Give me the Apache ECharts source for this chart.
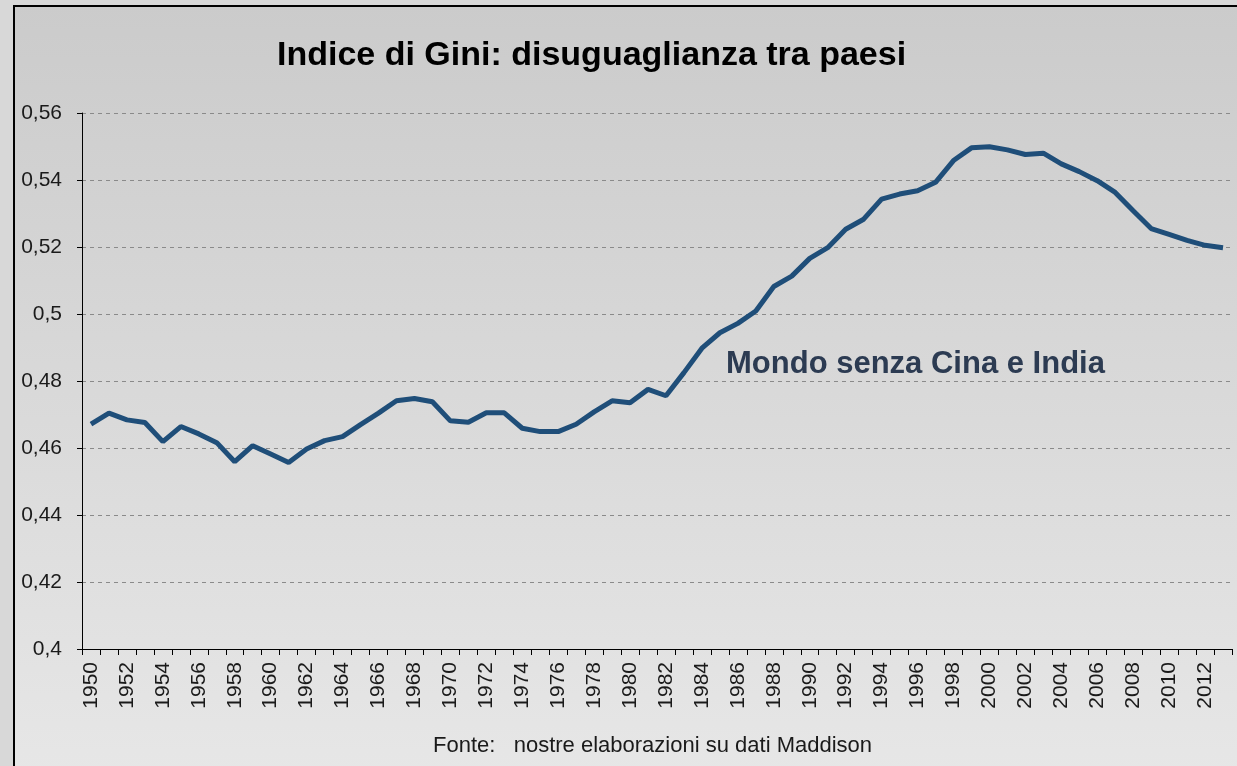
<!DOCTYPE html>
<html>
<head>
<meta charset="utf-8">
<title>Indice di Gini</title>
<script src="https://cdn.jsdelivr.net/npm/echarts@6/dist/echarts.min.js"></script>
<style>
  html, body { margin: 0; padding: 0; background: #d8d8d8; }
  #chart { width: 1237px; height: 766px; }
</style>
</head>
<body>
<div id="chart"></div>
<script>
// anni 1950-2013
var years = []
for (var y = 1950; y <= 2013; y++) years.push(String(y))

// indice di Gini, mondo senza Cina e India
var giniValues = [
  0.4671, 0.4704, 0.4684, 0.4676, 0.4619, 0.4664, 0.4642, 0.4616, 0.4559, 0.4607,
  0.4582, 0.4557, 0.4597, 0.4622, 0.4634, 0.4670, 0.4704, 0.4741, 0.4748, 0.4738,
  0.4681, 0.4677, 0.4705, 0.4705, 0.4659, 0.4649, 0.4649, 0.4671, 0.4708, 0.4741,
  0.4735, 0.4775, 0.4756, 0.4825, 0.4898, 0.4944, 0.4972, 0.5009, 0.5082, 0.5113,
  0.5166, 0.5198, 0.5253, 0.5283, 0.5343, 0.5358, 0.5368, 0.5393, 0.5458, 0.5496,
  0.5499, 0.5490, 0.5476, 0.5480, 0.5448, 0.5425, 0.5398, 0.5363, 0.5308, 0.5255,
  0.5238, 0.5220, 0.5205, 0.5198
]

var yMin = 0.4
var yMax = 0.56
var yStep = 0.02

var titleText = 'Indice di Gini: disuguaglianza tra paesi'
var seriesLabel = 'Mondo senza Cina e India'
var sourceText = 'Fonte:   nostre elaborazioni su dati Maddison'

var fontName = 'Liberation Sans, Arial, sans-serif'

var chart = echarts.init(document.getElementById('chart'))

chart.setOption({
  backgroundColor: '#d8d8d8',
  animation: false,
  textStyle: { fontFamily: fontName },
  graphic: [
    {
      // riquadro del grafico con sfumatura
      type: 'rect',
      z: -10,
      silent: true,
      shape: { x: 14, y: 6, width: 1260, height: 800 },
      style: {
        fill: new echarts.graphic.LinearGradient(0, 0, 0, 1, [
          { offset: 0, color: '#cbcbcb' },
          { offset: 1, color: '#e8e8e8' }
        ]),
        stroke: '#000',
        lineWidth: 2
      }
    },
    {
      type: 'text',
      left: 726,
      top: 349,
      style: {
        text: seriesLabel,
        fill: '#2c3b52',
        font: 'bold 31px ' + fontName
      }
    },
    {
      type: 'text',
      left: 433,
      top: 735,
      style: {
        text: sourceText,
        fill: '#1a1a1a',
        font: '22px ' + fontName
      }
    }
  ],
  title: {
    text: titleText,
    left: 272,
    top: 34,
    textStyle: {
      fontSize: 34,
      fontWeight: 'bold',
      color: '#000',
      fontFamily: fontName
    }
  },
  grid: {
    left: 82,
    right: 5,
    top: 113,
    bottom: 117
  },
  xAxis: {
    type: 'category',
    data: years,
    boundaryGap: true,
    axisLine: { lineStyle: { color: '#000', width: 1 } },
    axisTick: { show: true, interval: 0, length: 6, lineStyle: { color: '#000' } },
    axisLabel: {
      interval: 1,
      rotate: 90,
      margin: 13,
      fontSize: 21,
      color: '#1a1a1a'
    },
    splitLine: { show: false }
  },
  yAxis: {
    type: 'value',
    min: yMin,
    max: yMax,
    interval: yStep,
    axisLine: { show: true, lineStyle: { color: '#000', width: 1 } },
    axisTick: { show: true, length: 5, lineStyle: { color: '#000' } },
    axisLabel: {
      fontSize: 21,
      margin: 20,
      color: '#1a1a1a',
      formatter: function(v) {
        return String(+v.toFixed(2)).replace('.', ',')
      }
    },
    splitLine: { show: true, lineStyle: { color: '#8a8a8a', type: [4, 4], width: 1 } }
  },
  series: [
    {
      name: seriesLabel,
      type: 'line',
      data: giniValues,
      symbol: 'none',
      smooth: false,
      lineStyle: { color: '#1f4e79', width: 5 }
    }
  ]
})
</script>
</body>
</html>
